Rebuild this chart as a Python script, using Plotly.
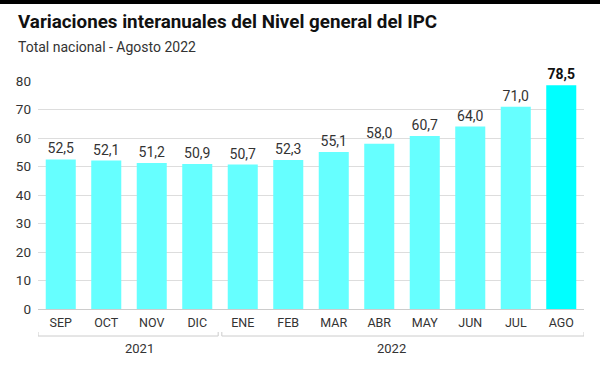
import plotly.graph_objects as go

months = ["SEP", "OCT", "NOV", "DIC", "ENE", "FEB", "MAR", "ABR", "MAY", "JUN", "JUL", "AGO"]
values = [52.5, 52.1, 51.2, 50.9, 50.7, 52.3, 55.1, 58.0, 60.7, 64.0, 71.0, 78.5]
years = ["2021", "2022"]
year_spans = [(0, 3), (4, 11)]  # category index ranges per year
year_label_pos = [1.72, 7.26]   # label centres, in category units
y_ticks = [0, 10, 20, 30, 40, 50, 60, 70, 80]

W, H = 600, 365
ML, MR, MT, MB = 38, 16, 81, 56
PW, PH = W - ML - MR, H - MT - MB

def px_x(p):
    return (p - ML) / PW

def px_y(p):
    return (H - MB - p) / PH

colors = ["#66FFFF"] * (len(values) - 1) + ["#00FFFF"]
texts = [f"{v:.1f}".replace(".", ",") for v in values]
texts[-1] = f"<b>{texts[-1]}</b>"
tcolors = ["#333333"] * (len(values) - 1) + ["#111111"]

fig = go.Figure(go.Bar(
    x=list(range(len(months))), y=values,
    marker=dict(color=colors, line=dict(width=0)),
    text=texts, textposition="outside", cliponaxis=False,
    textfont=dict(size=14, color=tcolors, family="Roboto"),
    width=0.66, hoverinfo="skip",
))

fig.update_layout(
    width=W, height=H,
    margin=dict(l=ML, r=MR, t=MT, b=MB),
    paper_bgcolor="white", plot_bgcolor="white",
    showlegend=False,
    font=dict(family="Roboto", color="#333333"),
    xaxis=dict(
        tickmode="array", tickvals=list(range(len(months))), ticktext=months,
        range=[-0.5, len(months) - 0.5],
        showgrid=False, zeroline=False, showline=False,
        tickfont=dict(size=12.5, color="#333333"), ticks="", ticklabelstandoff=4,
    ),
    yaxis=dict(
        range=[0, 80], tickvals=y_ticks, showgrid=True, gridcolor="#dddddd",
        gridwidth=1, zeroline=True, zerolinecolor="#cccccc", zerolinewidth=1,
        tickfont=dict(size=13.5, color="#333333"), ticks="", showline=False,
        ticklabelstandoff=6,
    ),
)

shapes = []
# top black band
shapes.append(dict(type="rect", xref="paper", yref="paper", x0=px_x(0), x1=px_x(W),
                   y0=px_y(4), y1=px_y(-2), fillcolor="black", line=dict(width=0), layer="above"))

annotations = []
bracket_y = px_y(336)
tick_y = px_y(332)
for (a, b), yr, lx in zip(year_spans, years, year_label_pos):
    x0 = a - 0.5 + (0.0 if a == 0 else 0.04)
    x1 = b + 0.5 - (0.04 if b < len(months) - 1 else 0.0)
    shapes.append(dict(type="line", xref="x", yref="paper", x0=x0, x1=x1, y0=bracket_y, y1=bracket_y,
                       line=dict(color="#cccccc", width=1)))
    for xx in (x0, x1):
        shapes.append(dict(type="line", xref="x", yref="paper", x0=xx, x1=xx, y0=bracket_y, y1=tick_y,
                           line=dict(color="#cccccc", width=1)))
    annotations.append(dict(x=lx, y=px_y(348), xref="x", yref="paper", text=yr,
                            showarrow=False, font=dict(size=13, color="#333333"), yanchor="middle"))

annotations.append(dict(x=px_x(16), y=px_y(22), xref="paper", yref="paper", xanchor="left", yanchor="middle",
                        text="<b>Variaciones interanuales del Nivel general del IPC</b>", showarrow=False,
                        font=dict(size=18.8, color="#111111", family="Roboto")))
annotations.append(dict(x=px_x(16), y=px_y(47), xref="paper", yref="paper", xanchor="left", yanchor="middle",
                        text="Total nacional - Agosto 2022", showarrow=False,
                        font=dict(size=14, color="#333333", family="Roboto")))

fig.update_layout(shapes=shapes, annotations=annotations)
fig.write_html("out.html", config={"displayModeBar": False},
               post_script="document.body.style.margin='0';")
